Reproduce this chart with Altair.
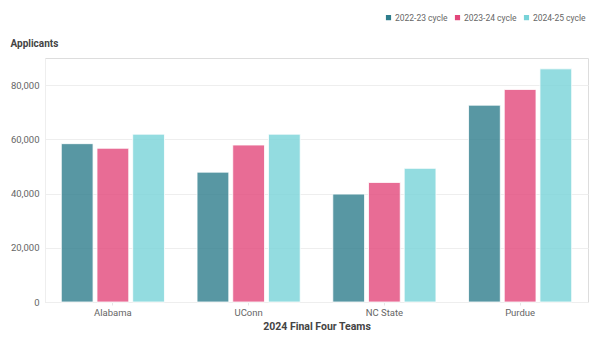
import altair as alt
import pandas as pd

teams = ["Alabama", "UConn", "NC State", "Purdue"]
cycles = ["2022-23 cycle", "2023-24 cycle", "2024-25 cycle"]
v_2022 = [58400, 47900, 39800, 72600]
v_2023 = [56700, 57900, 44100, 78400]
v_2024 = [61900, 61900, 49300, 86000]
colors = ["#2e7d8c", "#e2477b", "#78d3d8"]

rows = []
for i, t in enumerate(teams):
    for c, vals in zip(cycles, [v_2022, v_2023, v_2024]):
        rows.append({"team": t, "cycle": c, "applicants": vals[i]})
df = pd.DataFrame(rows)

FONT = "Roboto"

chart = alt.Chart(df).mark_bar(
    fillOpacity=0.8, stroke="white", strokeWidth=1, strokeOpacity=0.8
).encode(
    x=alt.X("team:N", sort=teams,
            scale=alt.Scale(paddingInner=0.24, paddingOuter=0.12),
            axis=alt.Axis(title="2024 Final Four Teams", labelAngle=0,
                          labelFontSize=9.5, labelColor="#666", labelPadding=2,
                          tickSize=3, tickColor="#e6e6e6", domainColor="#eeeeee",
                          titleFontSize=10.5, titleFontWeight="bold", titleColor="#444",
                          titlePadding=5)),
    xOffset=alt.XOffset("cycle:N", sort=cycles,
                        scale=alt.Scale(paddingInner=0.11, paddingOuter=0)),
    y=alt.Y("applicants:Q",
            scale=alt.Scale(domain=[0, 90000], nice=False),
            axis=alt.Axis(title="Applicants", values=[0, 20000, 40000, 60000, 80000],
                          format=",.0f", labelFontSize=9.5, labelColor="#666",
                          ticks=False, labelPadding=6, gridColor="#eeeeee",
                          domainColor="#eeeeee",
                          titleAngle=0, titleAlign="left", titleX=-35, titleY=-10,
                          titleFontSize=10, titleFontWeight="bold", titleColor="#444")),
    color=alt.Color("cycle:N", sort=cycles,
                    scale=alt.Scale(domain=cycles, range=colors),
                    legend=alt.Legend(title=None, orient="none", direction="horizontal",
                                      legendX=339, legendY=-45, symbolType="square",
                                      symbolSize=45, symbolOpacity=1, labelFontSize=8.5,
                                      labelColor="#666", columnPadding=3, labelOffset=2)),
).properties(
    width=543, height=244,
    autosize=alt.AutoSizeParams(type="none"),
    padding={"left": 45, "top": 58, "right": 12, "bottom": 50},
).configure_view(stroke=None).configure(font=FONT)

chart.save("out.html", embed_options={"renderer": "svg", "actions": False})
